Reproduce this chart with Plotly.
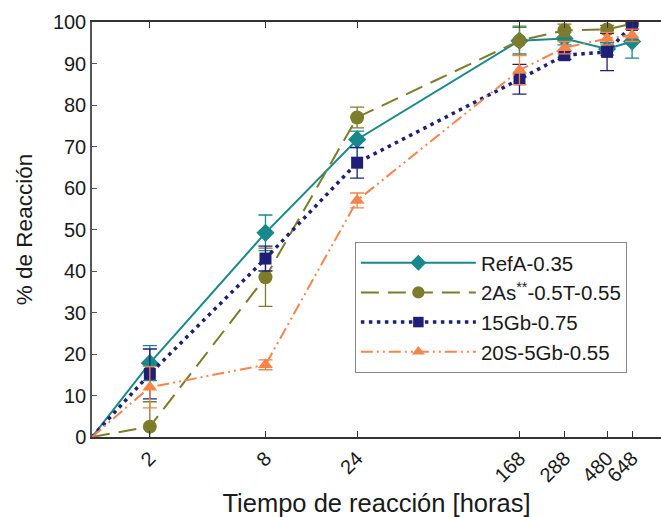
import plotly.graph_objects as go

times = [0, 2, 8, 24, 168, 288, 480, 648]
tick_labels = ["2", "8", "24", "168", "288", "480", "648"]

names = ["RefA-0.35", "2As<sup>**</sup>-0.5T-0.55", "15Gb-0.75", "20S-5Gb-0.55"]
refA = [0, 17.8, 49.2, 71.7, 95.5, 96.0, 93.5, 95.3]
refA_err = [0, 4.2, 4.3, 2.0, 3.2, 1.5, 1.5, 4.0]
as2 = [0, 2.5, 38.5, 77.0, 95.5, 98.0, 98.2, 99.6]
as2_err = [0, 6.0, 7.0, 2.5, 3.5, 1.5, 1.0, 0.5]
gb15 = [0, 15.2, 43.0, 66.1, 86.2, 92.0, 92.8, 99.3]
gb15_err = [0, 6.0, 3.0, 3.7, 3.6, 1.0, 4.5, 1.0]
s20 = [0, 12.0, 17.4, 57.0, 88.4, 93.8, 96.0, 96.8]
s20_err = [0, 5.0, 1.2, 1.8, 3.5, 1.5, 1.5, 1.5]

series = [refA, as2, gb15, s20]
errors = [refA_err, as2_err, gb15_err, s20_err]
colors = ["#17898a", "#7d7c2c", "#1f1f78", "#f7844a"]
dashes = ["solid", "18px,9px", "3.5px,4.5px", "12px,4px,2px,4px,2px,4px"]
widths = [2, 2, 3.5, 2]
symbols = ["diamond", "circle", "square", "triangle-up"]
msizes = [14, 14, 12, 13]

# a zero time is drawn at the axis origin (x = 1 on the log axis)
xpos = [t if t > 0 else 1 for t in times]

fig = go.Figure()
for name, y, e, c, d, w, s, m in zip(names, series, errors, colors, dashes, widths, symbols, msizes):
    fig.add_trace(go.Scatter(
        x=xpos, y=y, name=name, mode="lines+markers",
        line=dict(color=c, dash=d, width=w),
        marker=dict(symbol=s, size=[0 if t == 0 else m for t in times], color=c,
                    opacity=1, line=dict(width=0, color=c)),
        error_y=dict(type="data", array=e, visible=True, color=c, thickness=1.3, width=7),
    ))

fig.update_layout(
    width=661, height=517,
    margin=dict(l=92, r=0, t=22, b=80),
    paper_bgcolor="white", plot_bgcolor="white",
    font=dict(family="Liberation Sans, Arial, sans-serif", size=20, color="#1a1a1a"),
    showlegend=True,
    legend=dict(
        x=0.462, y=0.47, xanchor="left", yanchor="top",
        bordercolor="#888", borderwidth=1, bgcolor="white",
        font=dict(size=20.5), tracegroupgap=0, itemwidth=115,
    ),
)
fig.update_xaxes(
    type="log", range=[0, 2.962],
    tickvals=times[1:], ticktext=tick_labels, tickangle=-45,
    ticks="inside", ticklen=6, tickcolor="#333",
    showline=True, linecolor="#333", linewidth=1.5, mirror="ticks",
    showgrid=False, zeroline=False,
    title=dict(text="Tiempo de reacción [horas]", font=dict(size=25.5), standoff=14),
    tickfont=dict(size=20),
)
fig.update_yaxes(
    range=[0, 100], dtick=10,
    ticks="inside", ticklen=5, tickcolor="#555",
    showline=True, linecolor="#555", linewidth=1.5,
    showgrid=False, zeroline=False,
    title=dict(text="% de Reacción", font=dict(size=22.5), standoff=14),
    tickfont=dict(size=20),
)
fig.write_html("out.html")
